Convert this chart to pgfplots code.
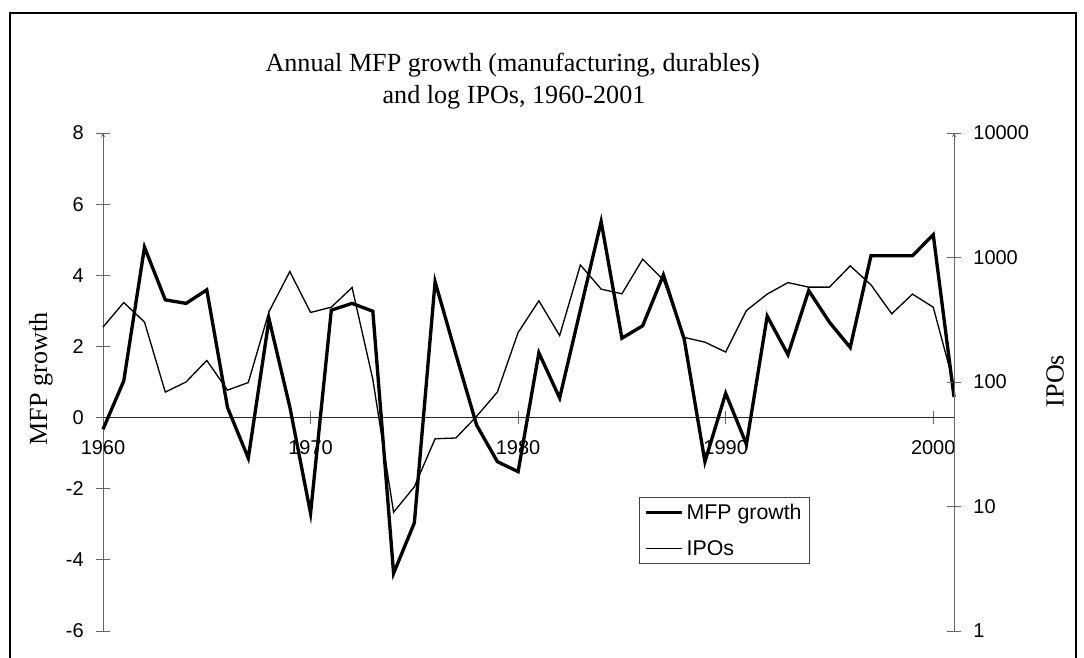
\documentclass[border=0pt]{standalone}
\usepackage{fontspec}
\setmainfont{Liberation Serif}
\newfontfamily\arial{Liberation Sans}
\usepackage{pgfplots}
\usepackage{pgfplotstable}
\pgfplotsset{compat=1.18}

\pgfplotstableread{
year mfp
1960 -0.33
1961 1.03
1962 4.79
1963 3.31
1964 3.21
1965 3.59
1966 0.28
1967 -1.14
1968 2.77
1969 0.30
1970 -2.69
1971 3.02
1972 3.21
1973 2.99
1974 -4.38
1975 -2.96
1976 3.82
1977 1.78
1978 -0.21
1979 -1.24
1980 -1.52
1981 1.82
1982 0.55
1983 3.03
1984 5.51
1985 2.23
1986 2.58
1987 4.01
1988 2.21
1989 -1.24
1990 0.68
1991 -0.75
1992 2.85
1993 1.77
1994 3.57
1995 2.68
1996 1.97
1997 4.55
1998 4.55
1999 4.55
2000 5.14
2001 0.58
}\mfptable

\pgfplotstableread{
year ipo
1960 276
1961 435
1962 303
1963 83
1964 100
1965 149
1966 86
1967 99
1968 368
1969 771
1970 362
1971 399
1972 574
1973 105
1974 9
1975 14.4
1976 35
1977 35.5
1978 53
1979 83
1980 250
1981 449
1982 236
1983 872
1984 557
1985 511
1986 969
1987 661
1988 228
1989 209
1990 174
1991 375
1992 508
1993 629
1994 578
1995 578
1996 857
1997 603
1998 353
1999 508
2000 399
2001 95
}\ipotable

\begin{document}
\begin{tikzpicture}
\useasboundingbox (0pt,0pt) rectangle (813pt,492.75pt);
% chart border
\draw[black, line width=0.8pt] (7.5pt,-5pt) -- (7.5pt,483pt) -- (807pt,483pt) -- (807pt,-5pt);

\pgfplotsset{
  common/.style={
    at={(77.25pt,19.5pt)}, anchor=south west,
    scale only axis, width=638.25pt, height=373.5pt,
    xmin=1960, xmax=2001,
    axis line style={-, black!60},
    tick style={black!60, line width=0.6pt},
    tick align=center, major tick length=10pt,
    ticklabel style={font=\arial\fontsize{15}{18}\selectfont},
    /pgf/number format/assume math mode=true,
    /pgf/number format/1000 sep={},
    clip=false,
  }
}

\begin{axis}[common,
  ymin=-6, ymax=8,
  axis x line=middle, axis y line=left,
  x axis line style={-, black!85, line width=0.7pt},
  hide obscured x ticks=false, hide obscured y ticks=false,
  xtick={1960,1970,1980,1990,2000},
  ytick={-6,-4,-2,0,2,4,6,8},
  yticklabel style={xshift=-6pt},
  xticklabel style={yshift=-9pt},
]
\addplot[black, line width=2.5pt, line join=miter] table[x=year,y=mfp] {\mfptable};
\end{axis}

\begin{axis}[common,
  ymode=log, ymin=1, ymax=10000,
  axis x line=none, axis y line=right,
  yminorticks=false,
  ytick={1,10,100,1000,10000},
  yticklabels={1,10,100,1000,10000},
  yticklabel style={xshift=6pt},
  legend cell align=left,
  legend style={at={(0.8308,0.2691)}, anchor=north east,
    draw=black!75, line width=0.6pt, fill=white,
    font=\arial\fontsize{16}{19}\selectfont,
    row sep=10pt, inner xsep=4pt, inner ysep=3pt,
    nodes={inner xsep=2pt}},
  legend image code/.code={\draw[#1] (0pt,0pt) -- (27pt,0pt);},
]
\addlegendimage{black, line width=2.5pt}
\addlegendentry{MFP growth}
\addplot[black, line width=1pt, line join=miter] table[x=year,y=ipo] {\ipotable};
\addlegendentry{IPOs}
\end{axis}

\node[anchor=base, font=\fontsize{19.6}{23.5}\selectfont] at (384.5pt,438.75pt) {Annual MFP growth (manufacturing, durables)};
\node[anchor=base, font=\fontsize{19.6}{23.5}\selectfont] at (385.5pt,414.75pt) {and log IPOs, 1960-2001};
\node[rotate=90, font=\fontsize{19.6}{23.5}\selectfont] at (30.75pt,208.5pt) {MFP growth};
\node[rotate=90, font=\fontsize{19.6}{23.5}\selectfont] at (791.25pt,207pt) {IPOs};
\end{tikzpicture}
\end{document}
